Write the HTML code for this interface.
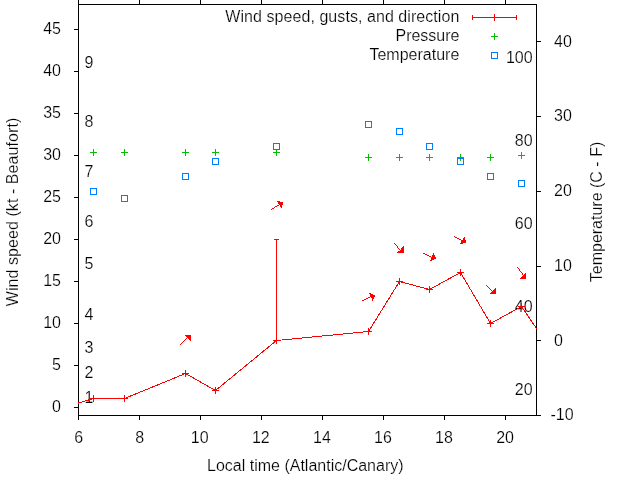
<!DOCTYPE html>
<html><head><meta charset="utf-8"><title>Wind speed, gusts, and direction</title>
<style>
html,body{margin:0;padding:0;background:#fff;}
body{width:640px;height:480px;overflow:hidden;position:relative;font-family:"Liberation Sans",sans-serif;}
svg{position:absolute;left:0;top:0;display:block;will-change:transform;}
text{font-family:"Liberation Sans",sans-serif;font-size:16px;fill:#000;stroke:#fff;stroke-width:0.2px;}
.ax{stroke:#000;stroke-width:1;fill:none;shape-rendering:crispEdges;}
.r{stroke:#f00;stroke-width:1;fill:none;shape-rendering:crispEdges;}
.rc{stroke:#f00;stroke-width:1;fill:none;shape-rendering:crispEdges;}
.g{stroke:#00c000;stroke-width:1;fill:none;shape-rendering:crispEdges;}
.b{stroke:#0080ff;stroke-width:1;fill:none;shape-rendering:crispEdges;}
.h{fill:#f00;stroke:none;shape-rendering:crispEdges;}
</style></head><body>
<svg width="640" height="480" viewBox="0 0 640 480">
<rect x="0" y="0" width="640" height="480" fill="#fff"/>

<path class="ax" d="M78 4.5H537"/>
<path class="ax" d="M78 415.5H541"/>
<path class="ax" d="M78.5 0V420"/>
<path class="ax" d="M536.5 4V416"/>
<path class="ax" d="M139.5 0V5"/>
<path class="ax" d="M139.5 415V420"/>
<path class="ax" d="M200.5 0V5"/>
<path class="ax" d="M200.5 415V420"/>
<path class="ax" d="M261.5 0V5"/>
<path class="ax" d="M261.5 415V420"/>
<path class="ax" d="M322.5 0V5"/>
<path class="ax" d="M322.5 415V420"/>
<path class="ax" d="M383.5 0V5"/>
<path class="ax" d="M383.5 415V420"/>
<path class="ax" d="M444.5 0V5"/>
<path class="ax" d="M444.5 415V420"/>
<path class="ax" d="M505.5 0V5"/>
<path class="ax" d="M505.5 415V420"/>
<path class="ax" d="M74 407.5H79"/>
<path class="ax" d="M74 365.5H79"/>
<path class="ax" d="M74 323.5H79"/>
<path class="ax" d="M74 281.5H79"/>
<path class="ax" d="M74 239.5H79"/>
<path class="ax" d="M74 197.5H79"/>
<path class="ax" d="M74 155.5H79"/>
<path class="ax" d="M74 113.5H79"/>
<path class="ax" d="M74 71.5H79"/>
<path class="ax" d="M74 29.5H79"/>
<path class="ax" d="M536 415.5H541"/>
<path class="ax" d="M536 340.5H541"/>
<path class="ax" d="M536 266.5H541"/>
<path class="ax" d="M536 191.5H541"/>
<path class="ax" d="M536 116.5H541"/>
<path class="ax" d="M536 41.5H541"/>
<text x="61" y="411.8" text-anchor="end">0</text>
<text x="61" y="369.9" text-anchor="end">5</text>
<text x="61" y="327.9" text-anchor="end">10</text>
<text x="61" y="286.0" text-anchor="end">15</text>
<text x="61" y="244.1" text-anchor="end">20</text>
<text x="61" y="202.1" text-anchor="end">25</text>
<text x="61" y="160.2" text-anchor="end">30</text>
<text x="61" y="118.2" text-anchor="end">35</text>
<text x="61" y="76.3" text-anchor="end">40</text>
<text x="61" y="34.4" text-anchor="end">45</text>
<text x="554" y="345.5" text-anchor="start">0</text>
<text x="554" y="270.7" text-anchor="start">10</text>
<text x="554" y="196.0" text-anchor="start">20</text>
<text x="554" y="121.3" text-anchor="start">30</text>
<text x="554" y="46.6" text-anchor="start">40</text>
<text x="550.5" y="420.2" text-anchor="start">-10</text>
<text x="78.6" y="442.5" text-anchor="middle">6</text>
<text x="139.7" y="442.5" text-anchor="middle">8</text>
<text x="199.7" y="442.5" text-anchor="middle">10</text>
<text x="260.8" y="442.5" text-anchor="middle">12</text>
<text x="321.9" y="442.5" text-anchor="middle">14</text>
<text x="382.9" y="442.5" text-anchor="middle">16</text>
<text x="444.0" y="442.5" text-anchor="middle">18</text>
<text x="505.1" y="442.5" text-anchor="middle">20</text>
<text x="84.5" y="403.4" text-anchor="start">1</text>
<text x="84.5" y="378.3" text-anchor="start">2</text>
<text x="84.5" y="353.1" text-anchor="start">3</text>
<text x="84.5" y="319.5" text-anchor="start">4</text>
<text x="84.5" y="269.2" text-anchor="start">5</text>
<text x="84.5" y="227.3" text-anchor="start">6</text>
<text x="84.5" y="177.0" text-anchor="start">7</text>
<text x="84.5" y="126.6" text-anchor="start">8</text>
<text x="84.5" y="67.9" text-anchor="start">9</text>
<text x="532.6" y="395.3" text-anchor="end">20</text>
<text x="532.6" y="312.3" text-anchor="end">40</text>
<text x="532.6" y="229.2" text-anchor="end">60</text>
<text x="532.6" y="146.2" text-anchor="end">80</text>
<text x="532.6" y="63.2" text-anchor="end">100</text>
<text x="305.3" y="470.5" text-anchor="middle">Local time (Atlantic/Canary)</text>
<text transform="translate(17.5,212) rotate(-90)" text-anchor="middle" textLength="188.5" lengthAdjust="spacing">Wind speed (kt - Beaufort)</text>
<text transform="translate(601.8,212) rotate(-90)" text-anchor="middle">Temperature (C - F)</text>
<text x="459.3" y="21.5" text-anchor="end" textLength="234" lengthAdjust="spacing">Wind speed, gusts, and direction</text>
<text x="459.5" y="40.5" text-anchor="end">Pressure</text>
<text x="459.3" y="59.5" text-anchor="end">Temperature</text>
<path class="rc" d="M472 17.5H517"/>
<path class="rc" d="M472.5 15V20"/>
<path class="rc" d="M516.5 15V20"/>
<path class="rc" d="M494.5 14V21"/>
<path class="g" d="M491 36.5H498"/>
<path class="g" d="M494.5 33V40"/>
<rect class="b" x="491.5" y="52.5" width="6" height="6"/>
<clipPath id="c"><rect x="78" y="4" width="459" height="412"/></clipPath>
<path class="r" clip-path="url(#c)" d="M63.5 407.5 L93.5 398.5 L124.5 398.5 L185.5 373.5 L215.5 390.5 L276.5 340.5 L368.5 331.5 L399.5 281.5 L429.5 289.5 L460.5 272.5 L490.5 323.5 L521.5 306.5 L551.5 350.5"/>
<path class="rc" d="M276.5 239V341"/>
<path class="rc" d="M274 239.5H279"/>
<path class="rc" d="M90 398.5H97"/>
<path class="rc" d="M93.5 395V402"/>
<path class="rc" d="M121 398.5H128"/>
<path class="rc" d="M124.5 395V402"/>
<path class="rc" d="M182 373.5H189"/>
<path class="rc" d="M185.5 370V377"/>
<path class="rc" d="M212 390.5H219"/>
<path class="rc" d="M215.5 387V394"/>
<path class="rc" d="M273 340.5H280"/>
<path class="rc" d="M276.5 337V344"/>
<path class="rc" d="M365 331.5H372"/>
<path class="rc" d="M368.5 328V335"/>
<path class="rc" d="M396 281.5H403"/>
<path class="rc" d="M399.5 278V285"/>
<path class="rc" d="M426 289.5H433"/>
<path class="rc" d="M429.5 286V293"/>
<path class="rc" d="M457 272.5H464"/>
<path class="rc" d="M460.5 269V276"/>
<path class="rc" d="M487 323.5H494"/>
<path class="rc" d="M490.5 320V327"/>
<path class="rc" d="M518 306.5H525"/>
<path class="rc" d="M521.5 303V310"/>
<path class="g" d="M90 152.5H97"/>
<path class="g" d="M93.5 149V156"/>
<path class="g" d="M121 152.5H128"/>
<path class="g" d="M124.5 149V156"/>
<path class="g" d="M182 152.5H189"/>
<path class="g" d="M185.5 149V156"/>
<path class="g" d="M212 152.5H219"/>
<path class="g" d="M215.5 149V156"/>
<path class="g" d="M273 152.5H280"/>
<path class="g" d="M276.5 149V156"/>
<path class="g" d="M365 157.5H372"/>
<path class="g" d="M368.5 154V161"/>
<path class="g" d="M396 157.5H403"/>
<path class="g" d="M399.5 154V161"/>
<path class="g" d="M426 157.5H433"/>
<path class="g" d="M429.5 154V161"/>
<path class="g" d="M457 157.5H464"/>
<path class="g" d="M460.5 154V161"/>
<path class="g" d="M487 157.5H494"/>
<path class="g" d="M490.5 154V161"/>
<path class="g" d="M518 155.5H525"/>
<path class="g" d="M521.5 152V159"/>
<rect class="b" x="90.5" y="188.5" width="6" height="6"/>
<rect class="b" x="121.5" y="195.5" width="6" height="6"/>
<rect class="b" x="182.5" y="173.5" width="6" height="6"/>
<rect class="b" x="212.5" y="158.5" width="6" height="6"/>
<rect class="b" x="273.5" y="143.5" width="6" height="6"/>
<rect class="b" x="365.5" y="121.5" width="6" height="6"/>
<rect class="b" x="396.5" y="128.5" width="6" height="6"/>
<rect class="b" x="426.5" y="143.5" width="6" height="6"/>
<rect class="b" x="457.5" y="158.5" width="6" height="6"/>
<rect class="b" x="487.5" y="173.5" width="6" height="6"/>
<rect class="b" x="518.5" y="180.5" width="6" height="6"/>
<path class="h" d="M185 335h6v1h-6zM186 336h5v1h-5zM187 337h4v1h-4zM188 338h3v1h-3zM189 339h2v1h-2zM190 340h1v1h-1zM180 344h1v1h-1zM181 343h1v1h-1zM182 342h1v1h-1zM183 341h1v1h-1zM184 340h1v1h-1zM185 339h1v1h-1zM186 338h1v1h-1z"/>
<path class="h" d="M277 201h3v1h-3zM278 202h5v1h-5zM278 203h5v1h-5zM279 204h4v1h-4zM280 205h2v1h-2zM280 206h2v1h-2zM281 207h1v1h-1zM271 209h1v1h-1zM272 208h2v1h-2zM274 207h1v1h-1zM275 206h2v1h-2zM277 205h2v1h-2z"/>
<path class="h" d="M369 293h2v1h-2zM370 294h3v1h-3zM370 295h5v1h-5zM370 296h5v1h-5zM371 297h3v1h-3zM372 298h2v1h-2zM372 299h1v1h-1zM372 300h1v1h-1zM362 300h2v1h-2zM364 299h2v1h-2zM366 298h2v1h-2zM368 297h2v1h-2z"/>
<path class="h" d="M403 246h1v1h-1zM402 247h2v1h-2zM401 248h3v1h-3zM401 249h3v1h-3zM400 250h4v1h-4zM398 251h6v1h-6zM397 252h7v1h-7zM394 243h1v1h-1zM395 244h1v1h-1zM396 245h1v1h-1zM397 246h1v1h-1zM397 247h1v1h-1zM398 248h1v1h-1zM399 249h1v1h-1z"/>
<path class="h" d="M433 253h1v1h-1zM433 254h1v1h-1zM432 255h3v1h-3zM432 256h3v1h-3zM431 257h5v1h-5zM431 258h5v1h-5zM431 259h3v1h-3zM430 260h2v1h-2zM423 253h2v1h-2zM425 254h2v1h-2zM427 255h2v1h-2zM429 256h2v1h-2z"/>
<path class="h" d="M464 237h1v1h-1zM463 238h2v1h-2zM463 239h2v1h-2zM461 240h5v1h-5zM461 241h5v1h-5zM461 242h5v1h-5zM460 243h3v1h-3zM454 236h1v1h-1zM455 237h2v1h-2zM457 238h2v1h-2zM459 239h2v1h-2z"/>
<path class="h" d="M495 288h1v1h-1zM494 289h2v1h-2zM493 290h3v1h-3zM492 291h4v1h-4zM491 292h5v1h-5zM490 293h6v1h-6zM486 285h1v1h-1zM487 286h1v1h-1zM488 287h1v1h-1zM489 288h1v1h-1zM490 289h1v1h-1zM491 290h1v1h-1z"/>
<path class="h" d="M525 273h1v1h-1zM524 274h2v1h-2zM523 275h3v1h-3zM522 276h4v1h-4zM521 277h5v1h-5zM520 278h6v1h-6zM517 267h1v1h-1zM518 268h1v1h-1zM519 269h1v1h-1zM519 270h1v1h-1zM520 271h1v1h-1zM521 272h1v1h-1zM522 273h1v1h-1zM522 274h1v1h-1z"/>
</svg></body></html>
